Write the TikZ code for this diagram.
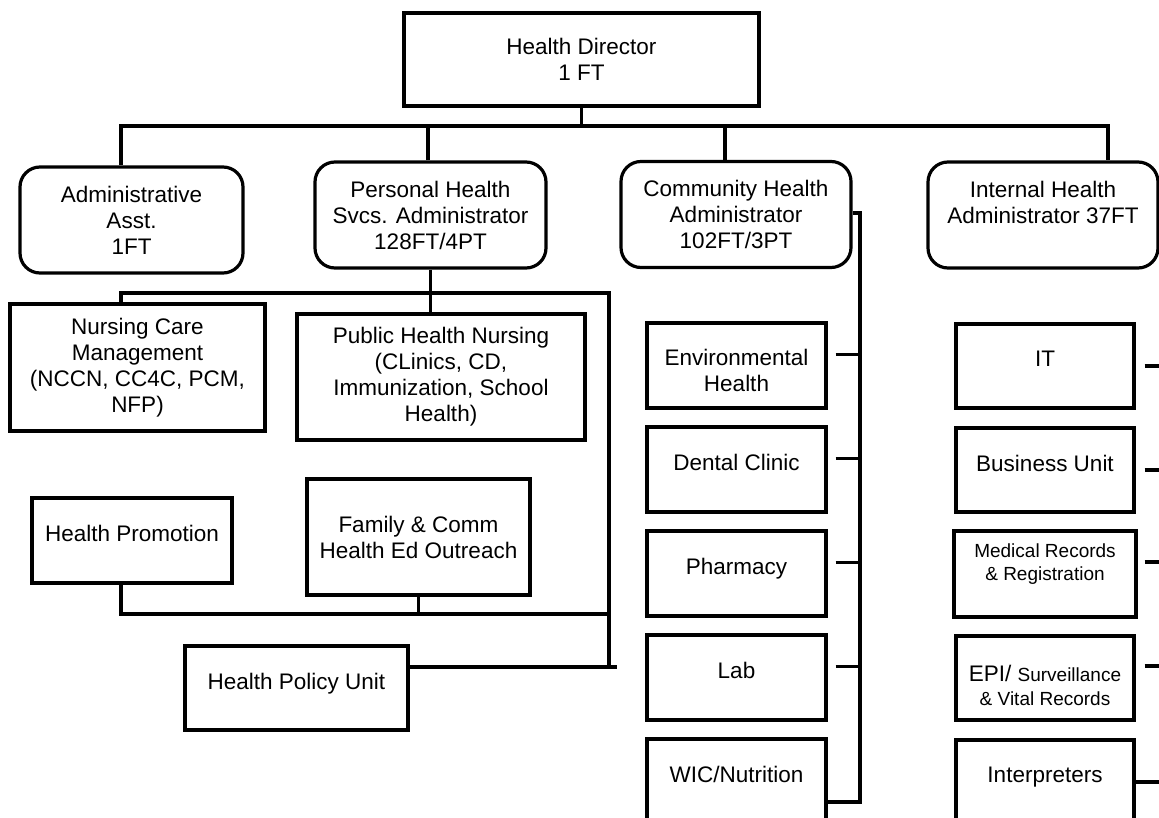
\documentclass[tikz,border=0pt]{standalone}
\usepackage{fontspec}
\setmainfont{Liberation Sans}
\usetikzlibrary{positioning}

\begin{document}
\begin{tikzpicture}[x=1pt, y=1pt, node distance=104pt, line width=3.2pt,
	box/.style={draw, align=center, inner sep=2pt, font=\fontsize{22.5}{26}\selectfont},
	chief/.style={box, minimum width=355pt, minimum height=93pt},
	admin/.style={box, rounded corners=20pt, minimum width=230pt, minimum height=106pt},
	unit/.style={box, minimum width=179pt, minimum height=85pt},
	solo/.style={unit, text depth=14pt}]
	\useasboundingbox (0,0) rectangle (1159,-818);

	\node[chief]				(HD)	at (581.5,-59.5)	{Health Director\\1 FT};
	\node[admin, minimum width=223pt]	(AA)	at (131.5,-220)		{Administrative\\Asst.\\1FT};
	\node[admin, minimum width=231pt]	(PHS)	at (430.5,-215)		{Personal Health\\Svcs. Administrator\\128FT/4PT};
	\node[admin]				(CHA)	at (736,-214.5)		{Community Health\\Administrator\\102FT/3PT};
	\node[admin]				(IHA)	at (1043,-215)		{Internal Health\\Administrator 37FT\\\mbox{}};

	\node[box, minimum width=255pt, minimum height=127pt]	(NCM)	at (137.5,-367.5)	{Nursing Care\\Management\\(NCCN, CC4C, PCM,\\NFP)};
	\node[box, minimum width=288pt, minimum height=126pt]	(PHN)	at (441,-377)		{Public Health Nursing\\(CLinics, CD,\\Immunization, School\\Health)};
	\node[solo, minimum width=200pt]			(HP)	at (132,-540.5)		{Health Promotion};
	\node[box, minimum width=223pt, minimum height=116pt]	(FAM)	at (418.5,-537)		{Family \& Comm\\Health Ed Outreach};
	\node[solo, minimum width=223pt, minimum height=84pt]	(HPU)	at (296.5,-688)		{Health Policy Unit};

	\node[unit]		(ENV)	at (736.5,-365.5)	{\mbox{}\\Environmental\\Health};
	\node[solo]		(DEN)	[below of=ENV]		{Dental Clinic};
	\node[solo]		(PHA)	[below of=DEN]		{Pharmacy};
	\node[solo]		(LAB)	[below of=PHA]		{Lab};
	\node[solo]		(WIC)	[below of=LAB]		{WIC/Nutrition};

	\node[solo, minimum width=178pt, minimum height=84pt]	(IT)	at (1045,-366)		{IT};
	\node[solo, minimum width=178pt, minimum height=84pt]	(BU)	[below of=IT]		{Business Unit};
	\node[unit, minimum width=182pt, minimum height=86pt, font=\fontsize{19}{23}\selectfont]	(MED)	[below of=BU]	{Medical Records\\\& Registration\\\mbox{}};
	\node[unit, minimum width=178pt, minimum height=84pt, font=\fontsize{22.5}{24}\selectfont]	(EPI)	[below of=MED]	{\mbox{}\\[8pt]EPI/ {\fontsize{19}{23}\selectfont Surveillance}\\{\fontsize{19}{23}\selectfont\& Vital Records}};
	\node[solo, minimum width=178pt, minimum height=84pt]	(INT)	[below of=EPI]		{Interpreters};

	\coordinate	(TOP)	at (582,-126);
	\coordinate	(PB)	at (430,-293);
	\coordinate	(PR)	at (609,-667);
	\coordinate	(LB)	at (609,-614);
	\coordinate	(CS)	at (860,-213);
	\coordinate	(EDGE)	at (1170,0);

	\draw	(HD.south)			--	(HD.south |- TOP)
		([xshift=-10.5pt]AA.north)	|-	(TOP)	-|	([xshift=65pt]IHA.north)
		([xshift=-2.5pt]PHS.north)	--	([xshift=-2.5pt]PHS.north |- TOP)
		([xshift=-11pt]CHA.north)	--	([xshift=-11pt]CHA.north |- TOP)
		(PHS.south)			--	(PHS.south |- PHN.north)
		([xshift=-16.5pt]NCM.north)	|-	(PB)	-|	(PR)
		([xshift=-11pt]HP.south)	|-	(LB)
		(FAM.south)			--	(FAM.south |- LB)
		(HPU.east |- PR)		--	([xshift=8pt]PR)
		(CHA.east |- CS)		--	(CS)	|-	([yshift=-20.5pt]WIC.east)
		([shift={(8pt,11pt)}]ENV.east)	--	([yshift=11pt]ENV.east -| CS)
		([shift={(8pt,11pt)}]DEN.east)	--	([yshift=11pt]DEN.east -| CS)
		([shift={(8pt,11pt)}]PHA.east)	--	([yshift=11pt]PHA.east -| CS)
		([shift={(8pt,11pt)}]LAB.east)	--	([yshift=11pt]LAB.east -| CS)
		([xshift=9pt]IT.east)		--	(IT.east -| EDGE)
		([xshift=9pt]BU.east)		--	(BU.east -| EDGE)
		([shift={(7pt,12pt)}]MED.east)	--	([yshift=12pt]MED.east -| EDGE)
		([shift={(9pt,12pt)}]EPI.east)	--	([yshift=12pt]EPI.east -| EDGE)
		(INT.east)			--	(INT.east -| EDGE);
\end{tikzpicture}
\end{document}
